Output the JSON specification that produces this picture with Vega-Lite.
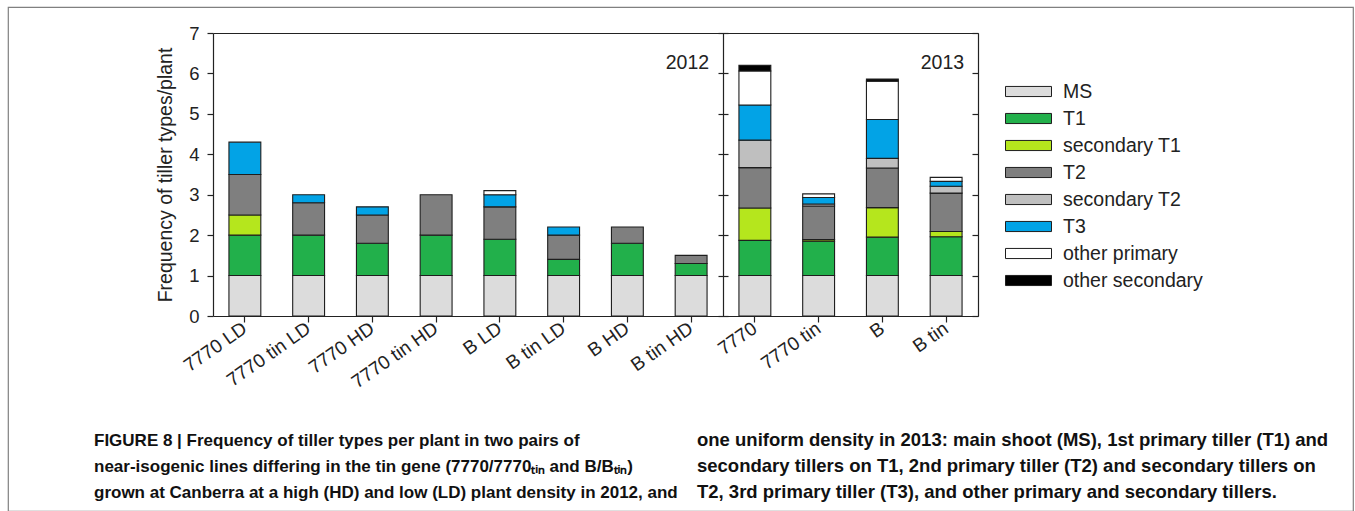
{
  "$schema": "https://vega.github.io/schema/vega-lite/v6.json",
  "width": 1345,
  "height": 504,
  "autosize": "none",
  "padding": {"left": 8, "top": 7, "right": 2, "bottom": 0},
  "background": "white",
  "config": {
    "font": "Liberation Sans",
    "view": {"stroke": "#808080", "strokeWidth": 1.2},
    "axis": {
      "grid": false,
      "domainColor": "#222222",
      "domainWidth": 1.2,
      "tickColor": "#222222",
      "tickWidth": 1.2,
      "labelColor": "#222222",
      "labelFont": "Liberation Sans",
      "titleFont": "Liberation Sans",
      "titleColor": "#222222"
    }
  },
  "datasets": {
    "tillers": [
      {"year": 2012, "line": "7770 LD", "tiller": "MS", "rank": 1, "freq": 1.0},
      {"year": 2012, "line": "7770 LD", "tiller": "T1", "rank": 2, "freq": 1.0},
      {"year": 2012, "line": "7770 LD", "tiller": "secondary T1", "rank": 3, "freq": 0.5},
      {"year": 2012, "line": "7770 LD", "tiller": "T2", "rank": 4, "freq": 1.0},
      {"year": 2012, "line": "7770 LD", "tiller": "T3", "rank": 6, "freq": 0.8},
      {"year": 2012, "line": "7770 tin LD", "tiller": "MS", "rank": 1, "freq": 1.0},
      {"year": 2012, "line": "7770 tin LD", "tiller": "T1", "rank": 2, "freq": 1.0},
      {"year": 2012, "line": "7770 tin LD", "tiller": "T2", "rank": 4, "freq": 0.8},
      {"year": 2012, "line": "7770 tin LD", "tiller": "T3", "rank": 6, "freq": 0.2},
      {"year": 2012, "line": "7770 HD", "tiller": "MS", "rank": 1, "freq": 1.0},
      {"year": 2012, "line": "7770 HD", "tiller": "T1", "rank": 2, "freq": 0.8},
      {"year": 2012, "line": "7770 HD", "tiller": "T2", "rank": 4, "freq": 0.7},
      {"year": 2012, "line": "7770 HD", "tiller": "T3", "rank": 6, "freq": 0.2},
      {"year": 2012, "line": "7770 tin HD", "tiller": "MS", "rank": 1, "freq": 1.0},
      {"year": 2012, "line": "7770 tin HD", "tiller": "T1", "rank": 2, "freq": 1.0},
      {"year": 2012, "line": "7770 tin HD", "tiller": "T2", "rank": 4, "freq": 1.0},
      {"year": 2012, "line": "B LD", "tiller": "MS", "rank": 1, "freq": 1.0},
      {"year": 2012, "line": "B LD", "tiller": "T1", "rank": 2, "freq": 0.9},
      {"year": 2012, "line": "B LD", "tiller": "T2", "rank": 4, "freq": 0.8},
      {"year": 2012, "line": "B LD", "tiller": "T3", "rank": 6, "freq": 0.3},
      {"year": 2012, "line": "B LD", "tiller": "other primary", "rank": 7, "freq": 0.1},
      {"year": 2012, "line": "B tin LD", "tiller": "MS", "rank": 1, "freq": 1.0},
      {"year": 2012, "line": "B tin LD", "tiller": "T1", "rank": 2, "freq": 0.4},
      {"year": 2012, "line": "B tin LD", "tiller": "T2", "rank": 4, "freq": 0.6},
      {"year": 2012, "line": "B tin LD", "tiller": "T3", "rank": 6, "freq": 0.2},
      {"year": 2012, "line": "B HD", "tiller": "MS", "rank": 1, "freq": 1.0},
      {"year": 2012, "line": "B HD", "tiller": "T1", "rank": 2, "freq": 0.8},
      {"year": 2012, "line": "B HD", "tiller": "T2", "rank": 4, "freq": 0.4},
      {"year": 2012, "line": "B tin HD", "tiller": "MS", "rank": 1, "freq": 1.0},
      {"year": 2012, "line": "B tin HD", "tiller": "T1", "rank": 2, "freq": 0.3},
      {"year": 2012, "line": "B tin HD", "tiller": "T2", "rank": 4, "freq": 0.2},
      {"year": 2013, "line": "7770", "tiller": "MS", "rank": 1, "freq": 1.0},
      {"year": 2013, "line": "7770", "tiller": "T1", "rank": 2, "freq": 0.87},
      {"year": 2013, "line": "7770", "tiller": "secondary T1", "rank": 3, "freq": 0.8},
      {"year": 2013, "line": "7770", "tiller": "T2", "rank": 4, "freq": 1.0},
      {"year": 2013, "line": "7770", "tiller": "secondary T2", "rank": 5, "freq": 0.68},
      {"year": 2013, "line": "7770", "tiller": "T3", "rank": 6, "freq": 0.87},
      {"year": 2013, "line": "7770", "tiller": "other primary", "rank": 7, "freq": 0.84},
      {"year": 2013, "line": "7770", "tiller": "other secondary", "rank": 8, "freq": 0.14},
      {"year": 2013, "line": "7770 tin", "tiller": "MS", "rank": 1, "freq": 1.0},
      {"year": 2013, "line": "7770 tin", "tiller": "T1", "rank": 2, "freq": 0.85},
      {"year": 2013, "line": "7770 tin", "tiller": "secondary T1", "rank": 3, "freq": 0.04},
      {"year": 2013, "line": "7770 tin", "tiller": "T2", "rank": 4, "freq": 0.83},
      {"year": 2013, "line": "7770 tin", "tiller": "secondary T2", "rank": 5, "freq": 0.05},
      {"year": 2013, "line": "7770 tin", "tiller": "T3", "rank": 6, "freq": 0.16},
      {"year": 2013, "line": "7770 tin", "tiller": "other primary", "rank": 7, "freq": 0.09},
      {"year": 2013, "line": "B", "tiller": "MS", "rank": 1, "freq": 1.0},
      {"year": 2013, "line": "B", "tiller": "T1", "rank": 2, "freq": 0.95},
      {"year": 2013, "line": "B", "tiller": "secondary T1", "rank": 3, "freq": 0.73},
      {"year": 2013, "line": "B", "tiller": "T2", "rank": 4, "freq": 0.98},
      {"year": 2013, "line": "B", "tiller": "secondary T2", "rank": 5, "freq": 0.24},
      {"year": 2013, "line": "B", "tiller": "T3", "rank": 6, "freq": 0.96},
      {"year": 2013, "line": "B", "tiller": "other primary", "rank": 7, "freq": 0.95},
      {"year": 2013, "line": "B", "tiller": "other secondary", "rank": 8, "freq": 0.05},
      {"year": 2013, "line": "B tin", "tiller": "MS", "rank": 1, "freq": 1.0},
      {"year": 2013, "line": "B tin", "tiller": "T1", "rank": 2, "freq": 0.96},
      {"year": 2013, "line": "B tin", "tiller": "secondary T1", "rank": 3, "freq": 0.13},
      {"year": 2013, "line": "B tin", "tiller": "T2", "rank": 4, "freq": 0.95},
      {"year": 2013, "line": "B tin", "tiller": "secondary T2", "rank": 5, "freq": 0.17},
      {"year": 2013, "line": "B tin", "tiller": "T3", "rank": 6, "freq": 0.12},
      {"year": 2013, "line": "B tin", "tiller": "other primary", "rank": 7, "freq": 0.1}
    ],
    "years": [
      {"label": "2012", "at": "B tin HD"},
      {"label": "2013", "at": "B tin"}
    ],
    "caption": [
      {"col": 0, "ln": 0, "text": "FIGURE 8 | Frequency of tiller types per plant in two pairs of"},
      {"col": 0, "ln": 1, "text": "near-isogenic lines differing in the tin gene (7770/7770ₜᵢₙ and B/Bₜᵢₙ)"},
      {"col": 0, "ln": 2, "text": "grown at Canberra at a high (HD) and low (LD) plant density in 2012, and"},
      {"col": 1, "ln": 0, "text": "one uniform density in 2013: main shoot (MS), 1st primary tiller (T1) and"},
      {"col": 1, "ln": 1, "text": "secondary tillers on T1, 2nd primary tiller (T2) and secondary tillers on"},
      {"col": 1, "ln": 2, "text": "T2, 3rd primary tiller (T3), and other primary and secondary tillers."}
    ]
  },
  "layer": [
    {
      "layer": [
        {
          "data": {"name": "tillers"},
          "transform": [{"filter": "datum.year == 2012"}],
          "mark": {"type": "bar", "stroke": "#1e1e1e", "strokeWidth": 1.1},
          "encoding": {
            "x": {
              "field": "line", "type": "nominal",
              "scale": {"domain": ["7770 LD", "7770 tin LD", "7770 HD", "7770 tin HD", "B LD", "B tin LD", "B HD", "B tin HD", "7770", "7770 tin", "B", "B tin"], "range": [205, 970], "paddingInner": 0.5, "paddingOuter": 0.25},
              "axis": {"orient": "bottom", "offset": -195, "title": null, "tickSize": 6, "labelAngle": -35, "labelAlign": "right", "labelBaseline": "middle", "labelFontSize": 19, "labelPadding": 4}
            },
            "y": {
              "field": "freq", "type": "quantitative", "stack": "zero",
              "scale": {"domain": [0, 7], "range": [309, 26], "nice": false},
              "axis": {"orient": "left", "offset": -205, "values": [0, 1, 2, 3, 4, 5, 6, 7], "tickSize": 6, "labelFontSize": 18.5, "labelPadding": 8, "title": "Frequency of tiller types/plant", "titleFontSize": 19.5, "titleFontWeight": "normal", "titlePadding": 13}
            },
            "order": {"field": "rank", "type": "quantitative"},
            "fill": {
              "field": "tiller", "type": "nominal",
              "sort": ["MS", "T1", "secondary T1", "T2", "secondary T2", "T3", "other primary", "other secondary"],
              "scale": {
                "domain": ["MS", "T1", "secondary T1", "T2", "secondary T2", "T3", "other primary", "other secondary"],
                "range": ["#dcdcdc", "#22b04b", "#b5e61d", "#7f7f7f", "#bfbfbf", "#02a3e6", "#ffffff", "#000000"]
              },
              "legend": {
                "orient": "none", "legendX": 997, "legendY": 71, "title": null,
                "symbolType": "M-1,-0.22H1V0.22H-1Z", "symbolSize": 2116,
                "symbolStrokeColor": "#222222", "symbolStrokeWidth": 1,
                "labelFontSize": 19.5, "labelColor": "#222222", "labelOffset": 11,
                "labelLimit": 300, "clipHeight": 27, "rowPadding": 0
              }
            }
          }
        },
        {
          "data": {"name": "tillers"},
          "transform": [{"filter": "datum.year == 2013"}],
          "mark": {"type": "bar", "stroke": "#1e1e1e", "strokeWidth": 1.1},
          "encoding": {
            "x": {
              "field": "line", "type": "nominal",
              "scale": {"domain": ["7770 LD", "7770 tin LD", "7770 HD", "7770 tin HD", "B LD", "B tin LD", "B HD", "B tin HD", "7770", "7770 tin", "B", "B tin"], "range": [205, 970], "paddingInner": 0.5, "paddingOuter": 0.25},
              "axis": null
            },
            "y": {
              "field": "freq", "type": "quantitative", "stack": "zero",
              "scale": {"domain": [0, 7], "range": [309, 26], "nice": false},
              "axis": {"orient": "left", "offset": -715, "values": [0, 1, 2, 3, 4, 5, 6, 7], "tickSize": -5, "labels": false, "domain": false, "title": null}
            },
            "order": {"field": "rank", "type": "quantitative"},
            "fill": {
              "field": "tiller", "type": "nominal",
              "sort": ["MS", "T1", "secondary T1", "T2", "secondary T2", "T3", "other primary", "other secondary"],
              "scale": {
                "domain": ["MS", "T1", "secondary T1", "T2", "secondary T2", "T3", "other primary", "other secondary"],
                "range": ["#dcdcdc", "#22b04b", "#b5e61d", "#7f7f7f", "#bfbfbf", "#02a3e6", "#ffffff", "#000000"]
              }
            }
          }
        },
        {
          "data": {"name": "years"},
          "transform": [{"filter": "datum.label == '2012'"}],
          "mark": {"type": "text", "align": "right", "baseline": "middle", "dx": 18, "fontSize": 19.5, "color": "#222222"},
          "encoding": {
            "x": {
              "field": "at", "type": "nominal",
              "scale": {"domain": ["7770 LD", "7770 tin LD", "7770 HD", "7770 tin HD", "B LD", "B tin LD", "B HD", "B tin HD", "7770", "7770 tin", "B", "B tin"], "range": [205, 970], "paddingInner": 0.5, "paddingOuter": 0.25},
              "axis": {"orient": "top", "offset": -26, "ticks": false, "labels": false, "title": null}
            },
            "y": {
              "datum": 6.25, "type": "quantitative",
              "scale": {"domain": [0, 7], "range": [309, 26], "nice": false},
              "axis": {"orient": "right", "offset": -630, "values": [0, 1, 2, 3, 4, 5, 6, 7], "tickSize": -5, "labels": false, "title": null}
            },
            "text": {"field": "label"}
          }
        },
        {
          "data": {"name": "years"},
          "transform": [{"filter": "datum.label == '2013'"}],
          "mark": {"type": "text", "align": "right", "baseline": "middle", "dx": 18, "fontSize": 19.5, "color": "#222222"},
          "encoding": {
            "x": {
              "field": "at", "type": "nominal",
              "scale": {"domain": ["7770 LD", "7770 tin LD", "7770 HD", "7770 tin HD", "B LD", "B tin LD", "B HD", "B tin HD", "7770", "7770 tin", "B", "B tin"], "range": [205, 970], "paddingInner": 0.5, "paddingOuter": 0.25},
              "axis": null
            },
            "y": {
              "datum": 6.25, "type": "quantitative",
              "scale": {"domain": [0, 7], "range": [309, 26], "nice": false},
              "axis": {"orient": "right", "offset": -375, "values": [0, 1, 2, 3, 4, 5, 6, 7], "tickSize": -6, "labels": false, "title": null}
            },
            "text": {"field": "label"}
          }
        }
      ],
      "resolve": {"axis": {"x": "independent", "y": "independent"}}
    },
    {
      "data": {"name": "caption"},
      "mark": {"type": "text", "align": "left", "baseline": "alphabetic", "fontWeight": "bold", "color": "#111111"},
      "encoding": {
        "x": {"field": "col", "type": "quantitative", "scale": {"domain": [0, 1], "range": [86, 689]}, "axis": null},
        "y": {"field": "ln", "type": "quantitative", "scale": {"domain": [0, 2], "range": [439, 491]}, "axis": null},
        "size": {"condition": {"test": "datum.col == 1", "value": 18.5}, "value": 17}, 
        "text": {"field": "text"}
      }
    }
  ],
  "resolve": {"scale": {"x": "independent", "y": "independent"}, "axis": {"x": "independent", "y": "independent"}}
}
